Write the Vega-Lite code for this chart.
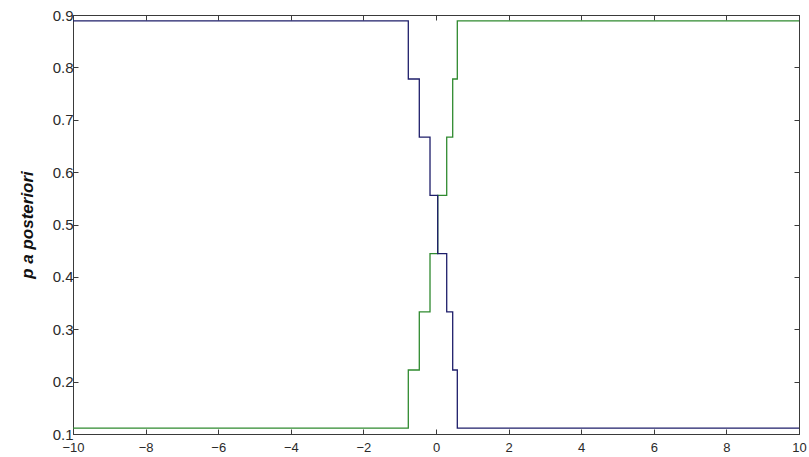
{
  "$schema": "https://vega.github.io/schema/vega-lite/v6.json",
  "width": 726,
  "height": 419,
  "autosize": {"type": "none"},
  "padding": {"left": 73, "top": 15, "right": 10, "bottom": 23},
  "background": "white",
  "config": {
    "view": {"stroke": "#3a3a3a", "strokeWidth": 1},
    "axis": {
      "grid": false,
      "domainColor": "#3a3a3a",
      "tickColor": "#3a3a3a",
      "labelFont": "Liberation Sans",
      "labelFontSize": 15,
      "labelColor": "#2a2a2a",
      "titleFont": "Liberation Sans"
    }
  },
  "data": {
    "values": [
      {"series": "a", "x": -10, "p": 0.8889},
      {"series": "a", "x": -0.763, "p": 0.7778},
      {"series": "a", "x": -0.46, "p": 0.6667},
      {"series": "a", "x": -0.165, "p": 0.5556},
      {"series": "a", "x": 0.047, "p": 0.4444},
      {"series": "a", "x": 0.295, "p": 0.3333},
      {"series": "a", "x": 0.46, "p": 0.2222},
      {"series": "a", "x": 0.587, "p": 0.1111},
      {"series": "a", "x": 10, "p": 0.1111},
      {"series": "b", "x": -10, "p": 0.1111},
      {"series": "b", "x": -0.763, "p": 0.2222},
      {"series": "b", "x": -0.46, "p": 0.3333},
      {"series": "b", "x": -0.165, "p": 0.4444},
      {"series": "b", "x": 0.047, "p": 0.5556},
      {"series": "b", "x": 0.295, "p": 0.6667},
      {"series": "b", "x": 0.46, "p": 0.7778},
      {"series": "b", "x": 0.587, "p": 0.8889},
      {"series": "b", "x": 10, "p": 0.8889}
    ]
  },
  "layer": [
    {
      "transform": [{"filter": "datum.series === 'b'"}],
      "mark": {"type": "line", "interpolate": "step-after", "color": "#2f8a2f", "strokeWidth": 1.3},
      "encoding": {
        "x": {"field": "x", "type": "quantitative", "scale": {"domain": [-10, 10], "nice": false, "zero": false},
          "axis": {"orient": "bottom", "values": [-10, -8, -6, -4, -2, 0, 2, 4, 6, 8, 10], "tickSize": -5, "labelPadding": 12, "labelFontSize": 13, "title": null, "labelFlush": false}},
        "y": {"field": "p", "type": "quantitative", "scale": {"domain": [0.1, 0.9], "nice": false, "zero": false},
          "axis": {"orient": "left", "values": [0.1, 0.2, 0.3, 0.4, 0.5, 0.6, 0.7, 0.8, 0.9], "format": ".1f", "tickSize": -5, "labelPadding": 5, "labelFlush": false,
            "title": "p a posteriori", "titleFontSize": 17, "titleFontWeight": "bold", "titleFontStyle": "italic", "titleColor": "#111111", "titlePadding": 16}}
      }
    },
    {
      "transform": [{"filter": "datum.series === 'a'"}],
      "mark": {"type": "line", "interpolate": "step-after", "color": "#1e1e6a", "strokeWidth": 1.3},
      "encoding": {
        "x": {"field": "x", "type": "quantitative",
          "axis": {"orient": "top", "values": [-10, -8, -6, -4, -2, 0, 2, 4, 6, 8, 10], "tickSize": -5, "labels": false, "title": null}},
        "y": {"field": "p", "type": "quantitative",
          "axis": {"orient": "right", "values": [0.1, 0.2, 0.3, 0.4, 0.5, 0.6, 0.7, 0.8, 0.9], "tickSize": -5, "labels": false, "title": null}}
      }
    }
  ],
  "resolve": {"axis": {"x": "independent", "y": "independent"}}
}
